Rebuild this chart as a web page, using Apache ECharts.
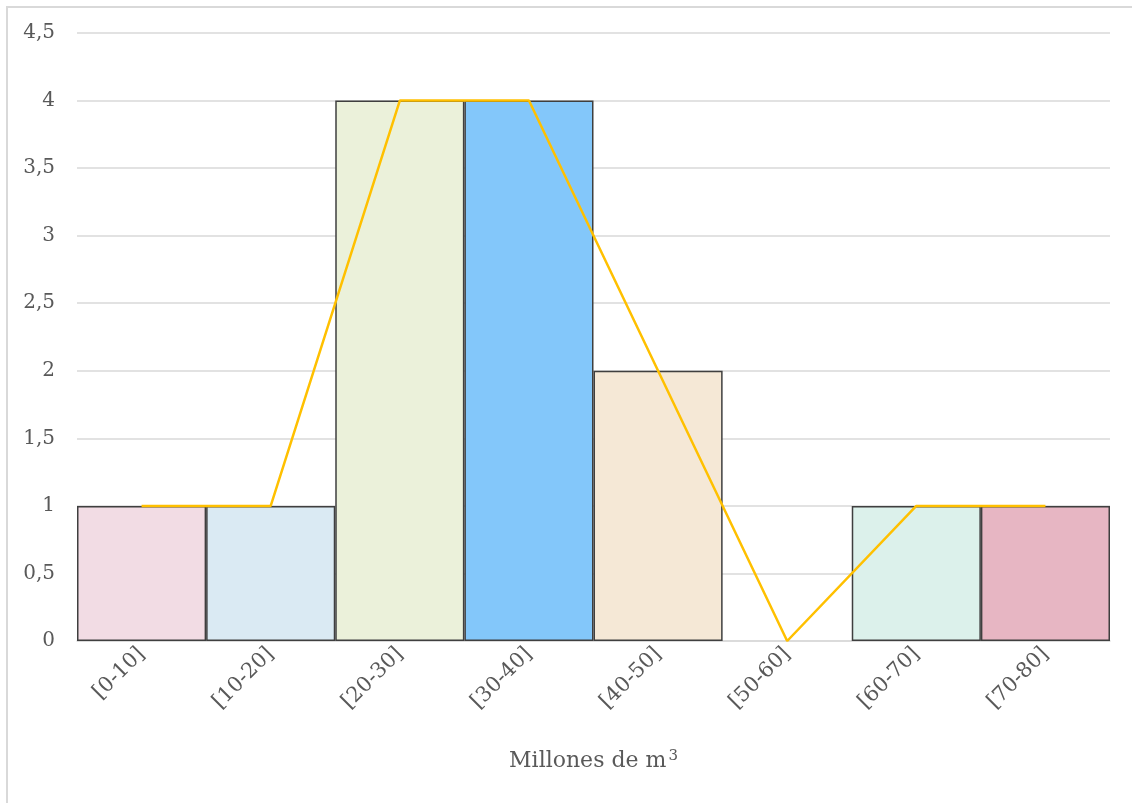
<!DOCTYPE html>
<html>
<head>
<meta charset="utf-8">
<script src="https://cdn.jsdelivr.net/npm/echarts@6/dist/echarts.min.js"></script>
<style>
  html, body { margin: 0; padding: 0; background: #fff; }
  #chart { width: 1132px; height: 803px; }
</style>
</head>
<body>
<div id="chart"></div>
<script>
// Frequency histogram of volumes (millions of m³) with its frequency polygon
const categories = ['[0-10]', '[10-20]', '[20-30]', '[30-40]', '[40-50]', '[50-60]', '[60-70]', '[70-80]'];
const frequencies = [1, 1, 4, 4, 2, 0, 1, 1];
const barColors = ['#F2DCE4', '#DAEAF3', '#EBF1DA', '#83C7FA', '#F5E8D6', '#FFFFFF', '#DCF1EB', '#E7B6C3'];
const axisTitleBase = 'Millones de m';
const axisTitleExp = '3';

const FONT = 'DejaVu Serif';
const TEXT = '#595959';
const chart = echarts.init(document.getElementById('chart'), null, { renderer: 'canvas' });

chart.setOption({
  backgroundColor: '#ffffff',
  animation: false,
  textStyle: { fontFamily: FONT },
  graphic: [
    {
      type: 'polyline',
      shape: { points: [[7, 803], [7, 7], [1132, 7]] },
      style: { stroke: '#d9d9d9', lineWidth: 2, fill: null },
      silent: true
    }
  ],
  grid: { left: 77, right: 22, top: 33, bottom: 162 },
  xAxis: {
    type: 'category',
    data: categories,
    boundaryGap: true,
    axisLine: { show: true, lineStyle: { color: '#d9d9d9', width: 1.5 } },
    axisTick: { show: false },
    axisLabel: {
      rotate: 45,
      color: TEXT,
      fontSize: 21,
      fontFamily: FONT,
      margin: 10,
      interval: 0
    },
    name: '{base|' + axisTitleBase + '}{sup|' + axisTitleExp + '}',
    nameLocation: 'middle',
    nameGap: 106,
    nameTextStyle: {
      color: TEXT,
      fontFamily: FONT,
      rich: {
        base: { fontSize: 22, color: TEXT, fontFamily: FONT, lineHeight: 28 },
        sup: { fontSize: 15, color: TEXT, fontFamily: FONT, lineHeight: 28, padding: [0, 0, 9, 2] }
      }
    }
  },
  yAxis: {
    type: 'value',
    min: 0,
    max: 4.5,
    interval: 0.5,
    axisLine: { show: false },
    axisTick: { show: false },
    splitLine: { lineStyle: { color: '#d9d9d9', width: 1.5 } },
    axisLabel: {
      color: TEXT,
      fontSize: 20,
      fontFamily: FONT,
      margin: 22,
      formatter: v => String(v).replace('.', ',')
    }
  },
  series: [
    {
      type: 'bar',
      barWidth: '100%',
      barGap: '0%',
      barCategoryGap: '0%',
      data: frequencies.map((v, i) => ({
        value: v,
        itemStyle: {
          color: barColors[i],
          borderColor: '#3f3f3f',
          borderWidth: v === 0 ? 0 : 1.5
        }
      })),
      z: 2
    },
    {
      type: 'line',
      data: frequencies,
      symbol: 'none',
      lineStyle: { color: '#FFC000', width: 2.5 },
      z: 3
    }
  ]
});
</script>
</body>
</html>
